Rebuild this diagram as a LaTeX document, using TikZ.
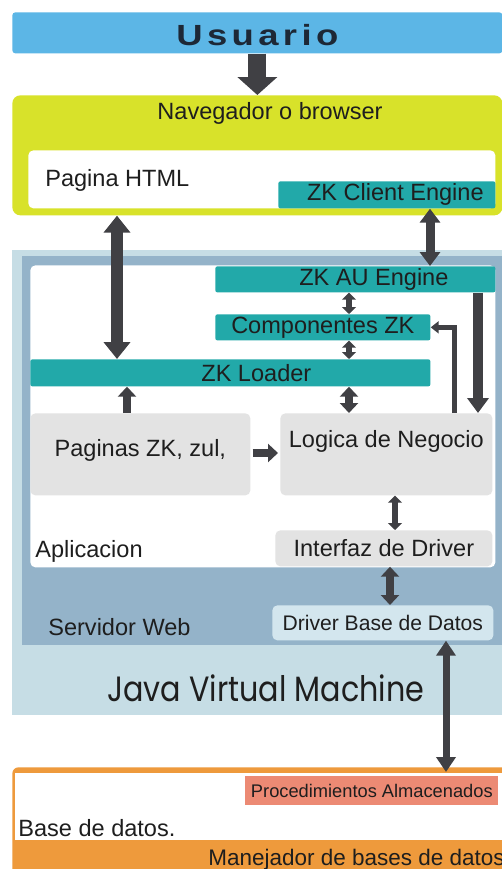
\documentclass[tikz,border=0pt]{standalone}
\usepackage{fontspec}
\usepackage{graphicx}
\setmainfont{Liberation Sans}
\newfontfamily\usrfont[LetterSpace=12]{Liberation Sans}
\newfontfamily\jvmfont{Poppins}
\usetikzlibrary{arrows.meta}
\definecolor{usrblue}{HTML}{5CB6E6}
\definecolor{usrink}{HTML}{1D2836}
\definecolor{navyellow}{HTML}{D8E22A}
\definecolor{zkteal}{HTML}{22A9A9}
\definecolor{jvmblue}{HTML}{C6DDE5}
\definecolor{srvblue}{HTML}{94B3C9}
\definecolor{boxgray}{HTML}{E3E3E3}
\definecolor{drvblue}{HTML}{D3E6EE}
\definecolor{bdorange}{HTML}{EE9A3C}
\definecolor{procsalmon}{HTML}{EC8A74}
\definecolor{arrgray}{HTML}{404044}
\definecolor{inkblack}{HTML}{1E1E1E}
\tikzset{
    region/.style={anchor=north west, inner sep=0pt}, % boxes are placed by their top left corner
    sz/.style 2 args={minimum width=#1*0.02cm, minimum height=#2*0.02cm}, % size in pixels
    txt/.style={font=\fontsize{13.4}{16}\selectfont, text=inkblack},
    zkbar/.style={region, fill=zkteal, rounded corners=0.04cm, txt},
    graybox/.style={region, fill=boxgray, rounded corners=0.1cm, txt},
    title/.style={txt, inner sep=0pt},
    arrA/.style={draw=arrgray, line width=0.36cm, >={Triangle[width=0.78cm, length=0.36cm]}},
    arrB/.style={draw=arrgray, line width=0.24cm, >={Triangle[width=0.52cm, length=0.34cm]}},
    arrC/.style={draw=arrgray, line width=0.18cm, >={Triangle[width=0.4cm, length=0.28cm]}},
    arrD/.style={draw=arrgray, line width=0.2cm, >={Triangle[width=0.42cm, length=0.3cm]}},
    arrM/.style={draw=arrgray, line width=0.16cm, >={Triangle[width=0.36cm, length=0.2cm]}},
    arrS/.style={draw=arrgray, line width=0.12cm, >={Triangle[width=0.28cm, length=0.14cm]}},
    arrT/.style={draw=arrgray, line width=0.1cm, >={Triangle[width=0.24cm, length=0.16cm]}},
    arrL/.style={draw=arrgray, line width=0.14cm, >={Triangle[width=0.38cm, length=0.3cm]}},
}

\begin{document}
\begin{tikzpicture}[x=0.02cm, y=-0.02cm]
        \fill[white] (0,0) rectangle (502,869);
        \useasboundingbox (0,0) rectangle (502,869);

        % Client side
        \node[region, sz={490}{41}, fill=usrblue, rounded corners=0.06cm,
              label={[text=usrink, font=\fontsize{16.6}{18}\selectfont, yshift=-0.05cm]center:{\usrfont\bfseries\scalebox{1.25}[1]{Usuario}}}] (usuario) at (12,12) {};
        \node[region, sz={490}{120}, fill=navyellow, rounded corners=0.16cm] (navegador) at (12,95) {};
        \node[title] (navTitle) at (270,113) {Navegador o browser};
        \node[region, sz={467}{58}, fill=white, rounded corners=0.1cm] (html) at (28,150) {};
        \node[title, anchor=west] (htmlTitle) at (45,180) {Pagina HTML};
        \node[zkbar, sz={217}{27}, label={[txt, xshift=0.17cm]center:ZK Client Engine}] (clientEng) at (278,181) {};

        % Server side
        \node[region, sz={490}{465}, fill=jvmblue] (jvm) at (12,250) {};
        \node[title, font=\jvmfont\fontsize{20}{24}\selectfont] (jvmTitle) at (266,688) {\scalebox{0.86}[1]{Java Virtual Machine}};
        \node[region, sz={480}{389}, fill=srvblue] (servidor) at (22,256) {};
        \node[title, anchor=west] (srvTitle) at (48,627) {Servidor Web};
        \node[region, sz={465}{302}, fill=white, rounded corners=0.1cm] (aplic) at (30,265) {};
        \node[title, anchor=west] (aplTitle) at (35,551) {Aplicacion};

        \node[zkbar, sz={280}{26}, label={[txt, xshift=0.37cm]center:ZK AU Engine}] (auEng) at (215,266) {};
        \node[zkbar, sz={215}{26}] (componentes) at (215,314) {Componentes ZK};
        \node[zkbar, sz={400}{27}, label={[txt, xshift=0.52cm]center:ZK Loader}] (loader) at (30,359) {};
        \node[graybox, sz={220}{82}, label={[txt, yshift=0.08cm]center:Paginas ZK, zul,}] (paginasZK) at (30,413) {};
        \node[graybox, sz={212}{82}, label={[txt, yshift=0.26cm]center:Logica de Negocio}] (logica) at (280,413) {};
        \node[graybox, sz={217}{36}] (interfaz) at (275,530) {Interfaz de Driver};
        \node[region, sz={221}{35}, fill=drvblue, rounded corners=0.1cm, txt,
              font=\fontsize{12}{14}\selectfont] (driverBD) at (272,605) {Driver Base de Datos};

        % Database
        \node[region, sz={495}{110}, fill=bdorange, rounded corners=0.12cm] (baseDatos) at (12,767) {};
        \node[region, sz={490}{67}, fill=white] (bdInner) at (15,773) {};
        \node[region, sz={253}{29}, fill=procsalmon, txt, font=\fontsize{10.4}{12}\selectfont] (procAlm) at (245,776) {Procedimientos Almacenados};
        \node[title, anchor=west] (bdTitle) at (18,828) {Base de datos.};
        \node[title, anchor=base west, font=\fontsize{12.8}{15}\selectfont] (manejador) at (208,865) {Manejador de bases de datos};

        % Columns of the connectors
        \coordinate (cHTML) at (117,0);
        \coordinate (cEng) at (430,0);
        \coordinate (cMid) at (349,0);
        \coordinate (cUp) at (127,0);
        \coordinate (cDown) at (478,0);
        \coordinate (cBack) at (454,0);
        \coordinate (cIf) at (395,0);
        \coordinate (cDrv) at (390,0);
        \coordinate (cBD) at (446,0);
        \coordinate (cRow) at (0,453);

        % Connectors
        \draw[arrA, ->] (usuario) -- (navegador);
        \draw[arrB, <->] (navegador.south -| cHTML) -- (loader.north -| cHTML);
        \draw[arrC, <->] (clientEng.south -| cEng) -- (auEng.north -| cEng);
        \draw[arrS, <->] (auEng.south -| cMid) -- (componentes.north -| cMid);
        \draw[arrS, <->] (componentes.south -| cMid) -- (loader.north -| cMid);
        \draw[arrM, <->] (loader.south -| cMid) -- (logica.north -| cMid);
        \draw[arrM, ->] (paginasZK.north -| cUp) -- (loader.south -| cUp);
        \draw[arrM, ->, shorten <=0.04cm, shorten >=0.04cm] (paginasZK.east |- cRow) -- (logica.west |- cRow);
        \draw[arrD, ->] (auEng.south -| cDown) -- (logica.north -| cDown);
        \draw[arrT, ->] (logica.north -| cBack) |- (componentes.east);
        \draw[arrS, <->] (logica.south -| cIf) -- (interfaz.north -| cIf);
        \draw[arrM, <->] (interfaz.south -| cDrv) -- (driverBD.north -| cDrv);
        \draw[arrL, <->] (driverBD.south -| cBD) -- ([yshift=-0.1cm]baseDatos.north -| cBD);
\end{tikzpicture}
\end{document}
